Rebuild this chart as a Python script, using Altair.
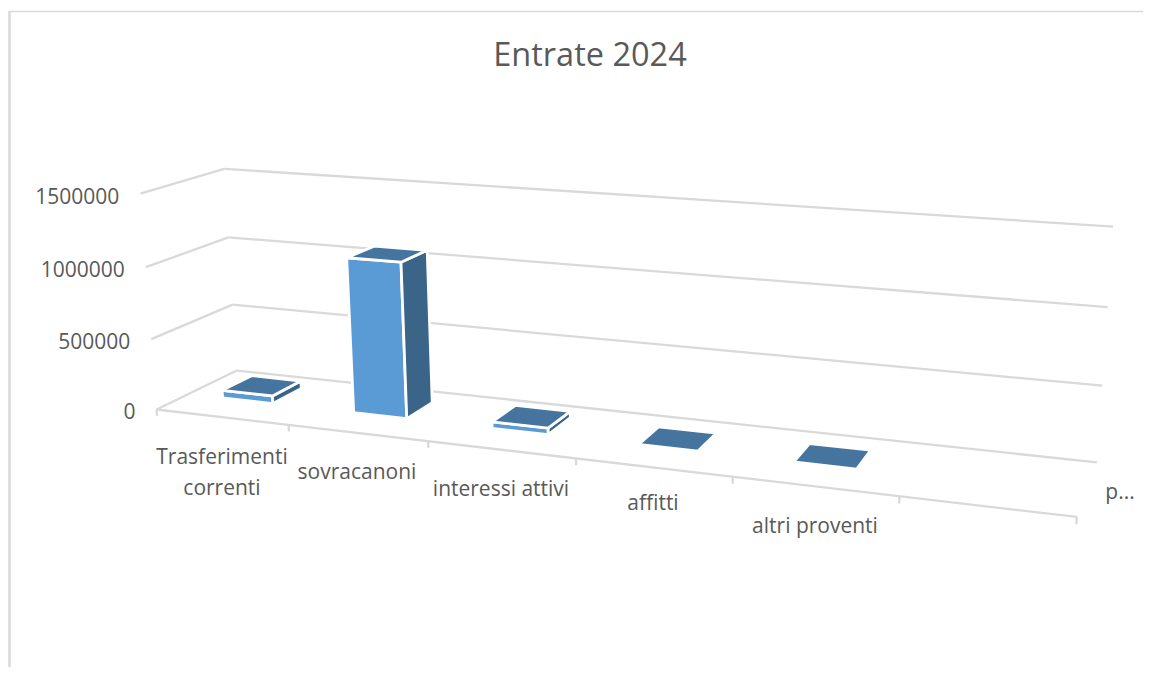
import numpy as np
import altair as alt

title_text = "Entrate 2024"
categories = ["Trasferimenti\ncorrenti", "sovracanoni", "interessi attivi", "affitti", "altri proventi", "p..."]
values = [55000, 1080000, 45000, 3000, 2000, None]
y_ticks = [0, 500000, 1000000, 1500000]

W, H = 1135, 659
Y_MAX = 1500000
GREY = "#d9d9d9"
TEXT = "#595959"
FONT = "Open Sans"
cat_label_x = [222, 357, 501, 653, 815, 1120]
cat_label_y = [458, 473, 490, 504, 527, 493]

# Perspective camera calibrated from the reference's axis-box corners and ticks
calib = [((0,0,0),(157,409)),((6,0,0),(1077,516)),((0,1,0),(237,371)),((6,1,0),(1097,462)),
         ((0,0,1),(140,194)),((0,1,1),(225,169)),((6,1,1),(1113,227)),
         ((0,0,1/3),(151,338)),((0,0,2/3),(146,267)),((0,1,1/3),(232,305)),((0,1,2/3),(228,237)),
         ((6,1,1/3),(1102,385)),((6,1,2/3),(1108,307)),
         ((1,0,0),(289,425)),((2,0,0),(428,441)),((3,0,0),(576,459)),((4,0,0),(733,478)),((5,0,0),(899,497))]
A, b = [], []
for (X, Y, Z), (u, v) in calib:
    A.append([X,Y,Z,1,0,0,0,0,-u*X,-u*Y,-u*Z]); b.append(u)
    A.append([0,0,0,0,X,Y,Z,1,-v*X,-v*Y,-v*Z]); b.append(v)
P = np.append(np.linalg.lstsq(np.array(A, float), np.array(b, float), rcond=None)[0], 1).reshape(3, 4)

def proj(X, Y, Z):
    h = P @ np.array([X, Y, Z, 1.0])
    return float(h[0] / h[2] - 8), float(h[1] / h[2] - 8)

def face(pts):
    ring = [list(proj(*p)) for p in pts]
    ring.append(ring[0])
    return {"type": "Feature", "properties": {}, "geometry": {"type": "Polygon", "coordinates": [ring]}}

X0, X1, Y0, Y1 = 0.27, 0.66, 0.38, 0.76
fronts, sides, tops = [], [], []
for i, val in enumerate(values):
    if val is None:
        continue
    z = val / Y_MAX
    a, c = i + X0, i + X1
    fronts.append(face([(a,Y0,0),(c,Y0,0),(c,Y0,z),(a,Y0,z)]))
    sides.append(face([(c,Y0,0),(c,Y1,0),(c,Y1,z),(c,Y0,z)]))
    tops.append(face([(a,Y0,z),(c,Y0,z),(c,Y1,z),(a,Y1,z)]))

segs = []
def seg(p, q):
    (x, y), (x2, y2) = proj(*p), proj(*q)
    segs.append({"x": x, "y": y, "x2": x2, "y2": y2})
for t in y_ticks:
    z = t / Y_MAX
    seg((0,0,z), (0,1,z))
    seg((0,1,z), (6,1,z))
seg((0,0,0), (6,0,0))
for k in range(7):
    seg((k,0,0), (k,0,-0.03))

xs = alt.Scale(domain=[0, W], range=[0, W], nice=False, zero=False)
ys = alt.Scale(domain=[0, H], range=[0, H], nice=False, zero=False)
ex = alt.X("x:Q", scale=xs, axis=None)
ey = alt.Y("y:Q", scale=ys, axis=None)

grid = alt.Chart(alt.Data(values=segs)).mark_rule(color=GREY, strokeWidth=2.3).encode(
    x=ex, y=ey, x2="x2:Q", y2="y2:Q")

frame_h = alt.Chart(alt.Data(values=[{"x": 1, "x2": W, "y": 3.5, "y2": 3.5}])).mark_rule(color=GREY, strokeWidth=1.5).encode(
    x=ex, y=ey, x2="x2:Q", y2="y2:Q")
frame_v = alt.Chart(alt.Data(values=[{"x": 1.5, "x2": 1.5, "y": 3, "y2": H}])).mark_rule(color=GREY, strokeWidth=2.5).encode(
    x=ex, y=ey, x2="x2:Q", y2="y2:Q")

def bar_layer(feats, color):
    return alt.Chart(alt.Data(values=feats)).mark_geoshape(
        fill=color, stroke="white", strokeWidth=2.8, strokeJoin="miter").project(type="identity", scale=1, translate=[0, 0])

ylab = []
for t in y_ticks:
    x, y = proj(0, 0, t / Y_MAX)
    ylab.append({"x": x - 21, "y": y + 4, "t": str(t)})
ylabels = alt.Chart(alt.Data(values=ylab)).mark_text(
    font=FONT, fontSize=21, color=TEXT, align="right", baseline="middle").encode(x=ex, y=ey, text="t:N")

clab = [{"x": x - 8, "y": y - 8, "t": c} for c, x, y in zip(categories, cat_label_x, cat_label_y)]
clabels = alt.Chart(alt.Data(values=clab)).mark_text(
    font=FONT, fontSize=21, color=TEXT, align="center", baseline="middle", lineHeight=31, lineBreak="\n").encode(x=ex, y=ey, text="t:N")

title = alt.Chart(alt.Data(values=[{"x": 582, "y": 48, "t": title_text}])).mark_text(
    font=FONT, fontSize=32.5, color=TEXT, align="center", baseline="middle").encode(x=ex, y=ey, text="t:N")

chart = alt.layer(frame_h, frame_v, grid,
                  bar_layer(fronts, "#5b9bd5"), bar_layer(sides, "#3b6489"), bar_layer(tops, "#45759f"),
                  ylabels, clabels, title).properties(
    width=W, height=H, padding=0, autosize=alt.AutoSizeParams(type="none")
).configure_view(stroke=None)

chart.save("out.html", embed_options={"renderer": "svg", "actions": False})
